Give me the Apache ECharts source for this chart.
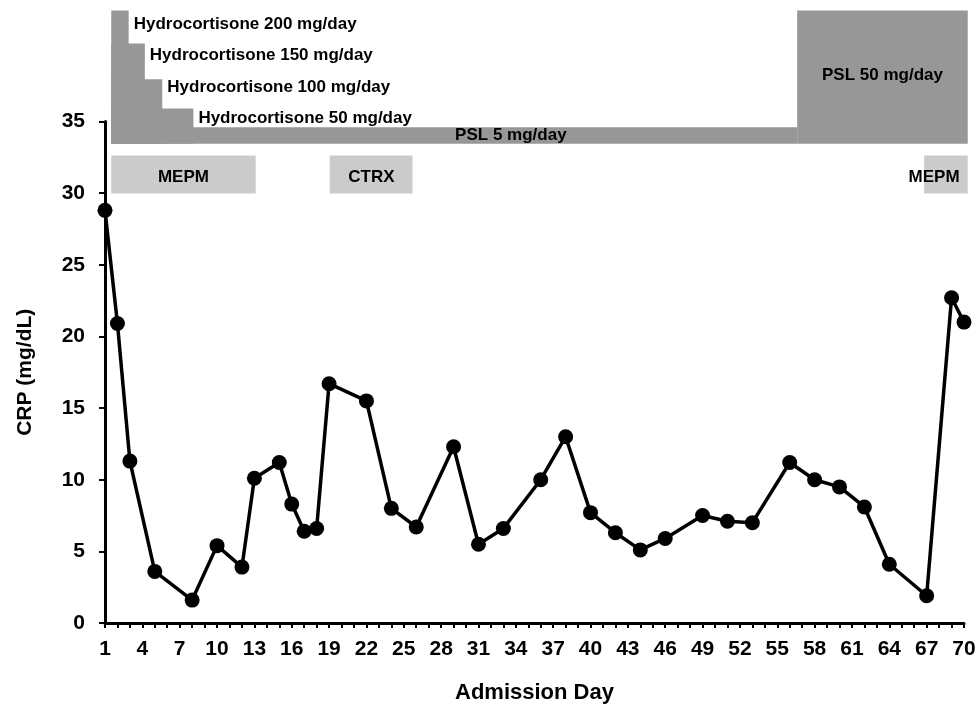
<!DOCTYPE html>
<html><head><meta charset="utf-8">
<script src="https://cdn.jsdelivr.net/npm/echarts@6/dist/echarts.min.js"></script>
<style>html,body{margin:0;padding:0;background:#fff}#c{width:978px;height:706px}</style>
</head><body><div id="c"></div>
<script>
// ---- data ----
const days = [1,2,3,5,8,10,12,13,15,16,17,18,19,22,24,26,29,31,33,36,38,40,42,44,46,49,51,53,56,58,60,62,64,67,69,70];
const crp  = [28.8,20.9,11.3,3.6,1.6,5.4,3.9,10.1,11.2,8.3,6.4,6.6,16.7,15.5,8.0,6.7,12.3,5.5,6.6,10.0,13.0,7.7,6.3,5.1,5.9,7.5,7.1,7.0,11.2,10.0,9.5,8.1,4.1,1.9,22.7,21.0];

const xTicks = [1,4,7,10,13,16,19,22,25,28,31,34,37,40,43,46,49,52,55,58,61,64,67,70];
const yTicks = [0,5,10,15,20,25,30,35];

const steroidLabels = ['Hydrocortisone 200 mg/day','Hydrocortisone 150 mg/day','Hydrocortisone 100 mg/day','Hydrocortisone 50 mg/day','PSL 5 mg/day','PSL 50 mg/day'];
const steroidStart  = [1.5, 1.5, 1.5, 1.5, 1.5, 56.6];
const steroidEnd    = [2.9, 4.2, 5.6, 8.1, 56.6, 70.3];

const abLabels = ['MEPM','CTRX','MEPM'];
const abStart  = [1.5, 19.05, 66.8];
const abEnd    = [13.1, 25.7, 70.3];

// ---- layout (vertical bands, in CRP-axis units, above the plot) ----
const ST_BASE = 33.45;
const stTop   = [42.75, 40.45, 37.95, 35.9, 34.6, 42.75];
const stTextY = [41.76, 39.6, 37.37, 35.21, 34.02, 38.21];
const stTextMode = ['after','after','after','after','center','center'];
const stTextDay  = [null,null,null,null,33.6,63.45];
const AB_BOT = 29.98, AB_TOP = 32.63, AB_TEXT_Y = 31.1;
const abTextDay = [7.3, 22.4, 67.6];

const FONT = 'Liberation Sans, Arial, Helvetica, sans-serif';
const DARK = '#979797', LIGHT = '#cbcbcb';

const chart = echarts.init(document.getElementById('c'), null, {renderer:'canvas'});
chart.setOption({
  animation: false,
  backgroundColor: '#fff',
  grid: {left: 105, right: 14, top: 121.5, bottom: 83, containLabel: false, outerBoundsMode: 'none'},
  xAxis: {
    type: 'value', min: 1, max: 70, interval: 1,
    name: 'Admission Day', nameLocation: 'middle', nameGap: 59,
    nameTextStyle: {fontFamily: FONT, fontWeight: 'bold', fontSize: 22, color: '#000'},
    axisLine: {show: true, lineStyle: {color: '#000', width: 3}},
    axisTick: {show: true, inside: false, length: 5, lineStyle: {color: '#000', width: 2}},
    axisLabel: {
      margin: 16, fontFamily: FONT, fontWeight: 'bold', fontSize: 21, color: '#000',
      formatter: v => (xTicks.indexOf(v) >= 0 ? String(v) : '')
    },
    splitLine: {show: false}
  },
  yAxis: {
    type: 'value', min: yTicks[0], max: yTicks[yTicks.length-1], interval: 5,
    name: 'CRP (mg/dL)', nameLocation: 'middle', nameGap: 69,
    nameTextStyle: {fontFamily: FONT, fontWeight: 'bold', fontSize: 21, color: '#000'},
    axisLine: {show: true, lineStyle: {color: '#000', width: 3}},
    axisTick: {show: true, inside: false, length: 6, lineStyle: {color: '#000', width: 2}},
    axisLabel: {margin: 20, fontFamily: FONT, fontWeight: 'bold', fontSize: 21, color: '#000'},
    splitLine: {show: false}
  },
  series: [
    {
      type: 'custom', clip: false, z: 1,
      data: steroidLabels.map((n, i) => [steroidStart[i], steroidEnd[i], i]),
      encode: {x: [0, 1]},
      renderItem: (params, api) => {
        const i = params.dataIndex;
        const p0 = api.coord([steroidStart[i], stTop[i]]);
        const p1 = api.coord([steroidEnd[i], ST_BASE]);
        let tx, align;
        if (stTextMode[i] === 'after') { tx = p1[0] + 5; align = 'left'; }
        else { tx = api.coord([stTextDay[i], 0])[0]; align = 'center'; }
        const ty = api.coord([1, stTextY[i]])[1];
        return {type: 'group', children: [
          {type: 'rect', shape: {x: p0[0], y: p0[1], width: p1[0]-p0[0], height: p1[1]-p0[1]}, style: {fill: DARK}},
          {type: 'text', z2: 10, style: {text: steroidLabels[i], x: tx, y: ty, align: align, verticalAlign: 'middle',
            fontFamily: FONT, fontWeight: 'bold', fontSize: 17, fill: '#000'}}
        ]};
      }
    },
    {
      type: 'custom', clip: false, z: 1,
      data: abLabels.map((n, i) => [abStart[i], abEnd[i], i]),
      encode: {x: [0, 1]},
      renderItem: (params, api) => {
        const i = params.dataIndex;
        const p0 = api.coord([abStart[i], AB_TOP]);
        const p1 = api.coord([abEnd[i], AB_BOT]);
        const tx = api.coord([abTextDay[i], 0])[0];
        const ty = api.coord([1, AB_TEXT_Y])[1];
        return {type: 'group', children: [
          {type: 'rect', shape: {x: p0[0], y: p0[1], width: p1[0]-p0[0], height: p1[1]-p0[1]}, style: {fill: LIGHT}},
          {type: 'text', z2: 10, style: {text: abLabels[i], x: tx, y: ty, align: 'center', verticalAlign: 'middle',
            fontFamily: FONT, fontWeight: 'bold', fontSize: 17, fill: '#000'}}
        ]};
      }
    },
    {
      type: 'line', z: 5, clip: false,
      data: days.map((d, i) => [d, crp[i]]),
      symbol: 'circle', symbolSize: 15,
      lineStyle: {color: '#000', width: 3.5},
      itemStyle: {color: '#000'}
    }
  ]
});
</script>
</body></html>
